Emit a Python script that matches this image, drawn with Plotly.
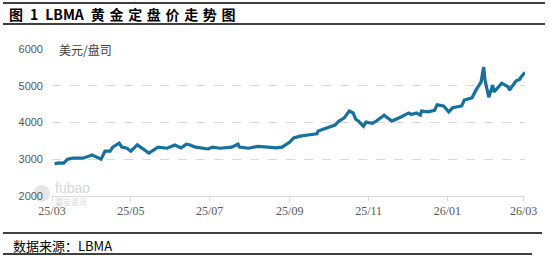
import plotly.graph_objects as go

dates = [
    "2025-03-03", "2025-03-06", "2025-03-10", "2025-03-13", "2025-03-17", "2025-03-25",
    "2025-04-01", "2025-04-08", "2025-04-11", "2025-04-15", "2025-04-17", "2025-04-22",
    "2025-04-24", "2025-04-28", "2025-05-01", "2025-05-06", "2025-05-15", "2025-05-22",
    "2025-05-29", "2025-06-04", "2025-06-09", "2025-06-13", "2025-06-16", "2025-06-20",
    "2025-06-30", "2025-07-03", "2025-07-09", "2025-07-15", "2025-07-18", "2025-07-23",
    "2025-07-24", "2025-07-31", "2025-08-07", "2025-08-15", "2025-08-21", "2025-08-26",
    "2025-09-01", "2025-09-04", "2025-09-09", "2025-09-15", "2025-09-22", "2025-09-23",
    "2025-09-30", "2025-10-06", "2025-10-09", "2025-10-13", "2025-10-17", "2025-10-20",
    "2025-10-22", "2025-10-24", "2025-10-28", "2025-10-30", "2025-11-04", "2025-11-07",
    "2025-11-13", "2025-11-17", "2025-11-19", "2025-11-26", "2025-12-02", "2025-12-04",
    "2025-12-08", "2025-12-11", "2025-12-12", "2025-12-17", "2025-12-22", "2025-12-24",
    "2025-12-29", "2026-01-02", "2026-01-05", "2026-01-12", "2026-01-14", "2026-01-20",
    "2026-01-23", "2026-01-27", "2026-01-29", "2026-01-30", "2026-02-02", "2026-02-05",
    "2026-02-06", "2026-02-12", "2026-02-16", "2026-02-17", "2026-02-18", "2026-02-23",
    "2026-02-26", "2026-02-27", "2026-03-02",
]
prices = [
    2870, 2900, 2895, 3000, 3030, 3030,
    3115, 3000, 3220, 3220, 3330, 3440,
    3330, 3300, 3220, 3390, 3170, 3330,
    3300, 3390, 3310, 3410, 3390, 3330,
    3280, 3330, 3300, 3330, 3330, 3410,
    3330, 3300, 3350, 3330, 3310, 3330,
    3470, 3580, 3630, 3660, 3690, 3770,
    3850, 3930, 4040, 4120, 4310, 4260,
    4090, 4040, 3900, 4010, 3980, 4040,
    4200, 4090, 4040, 4150, 4260, 4220,
    4260, 4200, 4310, 4290, 4330, 4480,
    4450, 4290, 4400, 4450, 4610, 4670,
    4880, 5100, 5510, 5160, 4690, 5020,
    4830, 5070, 4970, 4970, 4880, 5130,
    5180, 5240, 5370,
]
y_ticks = [2000, 3000, 4000, 5000, 6000]

title_parts = ["图", "1", "LBMA", "黄金定盘价走势图"]
unit_text = "美元/盘司"
source_text = "数据来源：LBMA"

fig = go.Figure()
fig.add_trace(go.Scatter(
    x=dates, y=prices, mode="lines",
    line=dict(color="#17709d", width=3.2),
    hoverinfo="skip", showlegend=False,
))

W, H = 551, 257
L, R, T, B = 52, 26, 49, 61
pw, ph = W - L - R, H - T - B

def px(x):
    return (x - L) / pw

def py(y):
    return (H - B - y) / ph

shapes = []
for (y0, x0, x1, w) in [(3, 3, 545, 1.5), (24, 3, 545, 1.5), (233, 3, 542, 1.5), (254, 3, 532, 1.5)]:
    shapes.append(dict(type="line", xref="paper", yref="paper",
                       x0=px(x0), x1=px(x1), y0=py(y0), y1=py(y0),
                       line=dict(color="#000000", width=w)))

title_html = "\u2002".join(title_parts[:3]) + "\u2002" + "\u2004".join(title_parts[3])
annotations = [
    dict(text="<b>" + title_html + "</b>", xref="paper", yref="paper", x=px(7), y=py(14),
         xanchor="left", yanchor="middle", showarrow=False,
         font=dict(family="Noto Sans CJK SC", size=14, color="#000000")),
    dict(text=source_text, xref="paper", yref="paper", x=px(11), y=py(245),
         xanchor="left", yanchor="middle", showarrow=False,
         font=dict(family="Noto Sans CJK SC", size=13, color="#000000")),
    dict(text=unit_text, xref="paper", yref="paper", x=px(57), y=py(49),
         xanchor="left", yanchor="middle", showarrow=False,
         font=dict(family="Noto Sans CJK SC", size=12, color="#404040")),
    dict(text="fubao", xref="paper", yref="paper", x=px(53), y=py(188),
         xanchor="left", yanchor="middle", showarrow=False,
         font=dict(family="Liberation Sans", size=14, color="#d6d6d6")),
    dict(text="富宝资讯", xref="paper", yref="paper", x=px(53), y=py(201),
         xanchor="left", yanchor="middle", showarrow=False,
         font=dict(family="Noto Sans CJK SC", size=8, color="#d6d6d6")),
]
shapes.append(dict(type="circle", xref="paper", yref="paper",
                   x0=px(33), x1=px(50), y0=py(202), y1=py(185),
                   fillcolor="#e6e6e6", line=dict(width=0), layer="below"))

fig.update_layout(
    width=W, height=H,
    margin=dict(l=L, r=R, t=T, b=B),
    paper_bgcolor="white", plot_bgcolor="white",
    shapes=shapes, annotations=annotations,
    xaxis=dict(
        type="date", range=["2025-03-01", "2026-03-02"],
        tick0="2025-03-01", dtick="M2", tickformat="%y/%m",
        showline=True, linecolor="#d9d9d9", linewidth=1,
        ticks="outside", ticklen=4, tickcolor="#d9d9d9",
        showgrid=False, zeroline=False,
        tickfont=dict(family="Liberation Serif", size=12, color="#595959"),
    ),
    yaxis=dict(
        range=[2000, 6000], tickvals=y_ticks,
        showgrid=True, gridcolor="#d9d9d9", griddash="dash", gridwidth=1,
        zeroline=False, showline=False, ticks="",
        ticklabelstandoff=8,
        tickfont=dict(family="Liberation Sans", size=11, color="#595959"),
    ),
)

fig.write_html("out.html")
